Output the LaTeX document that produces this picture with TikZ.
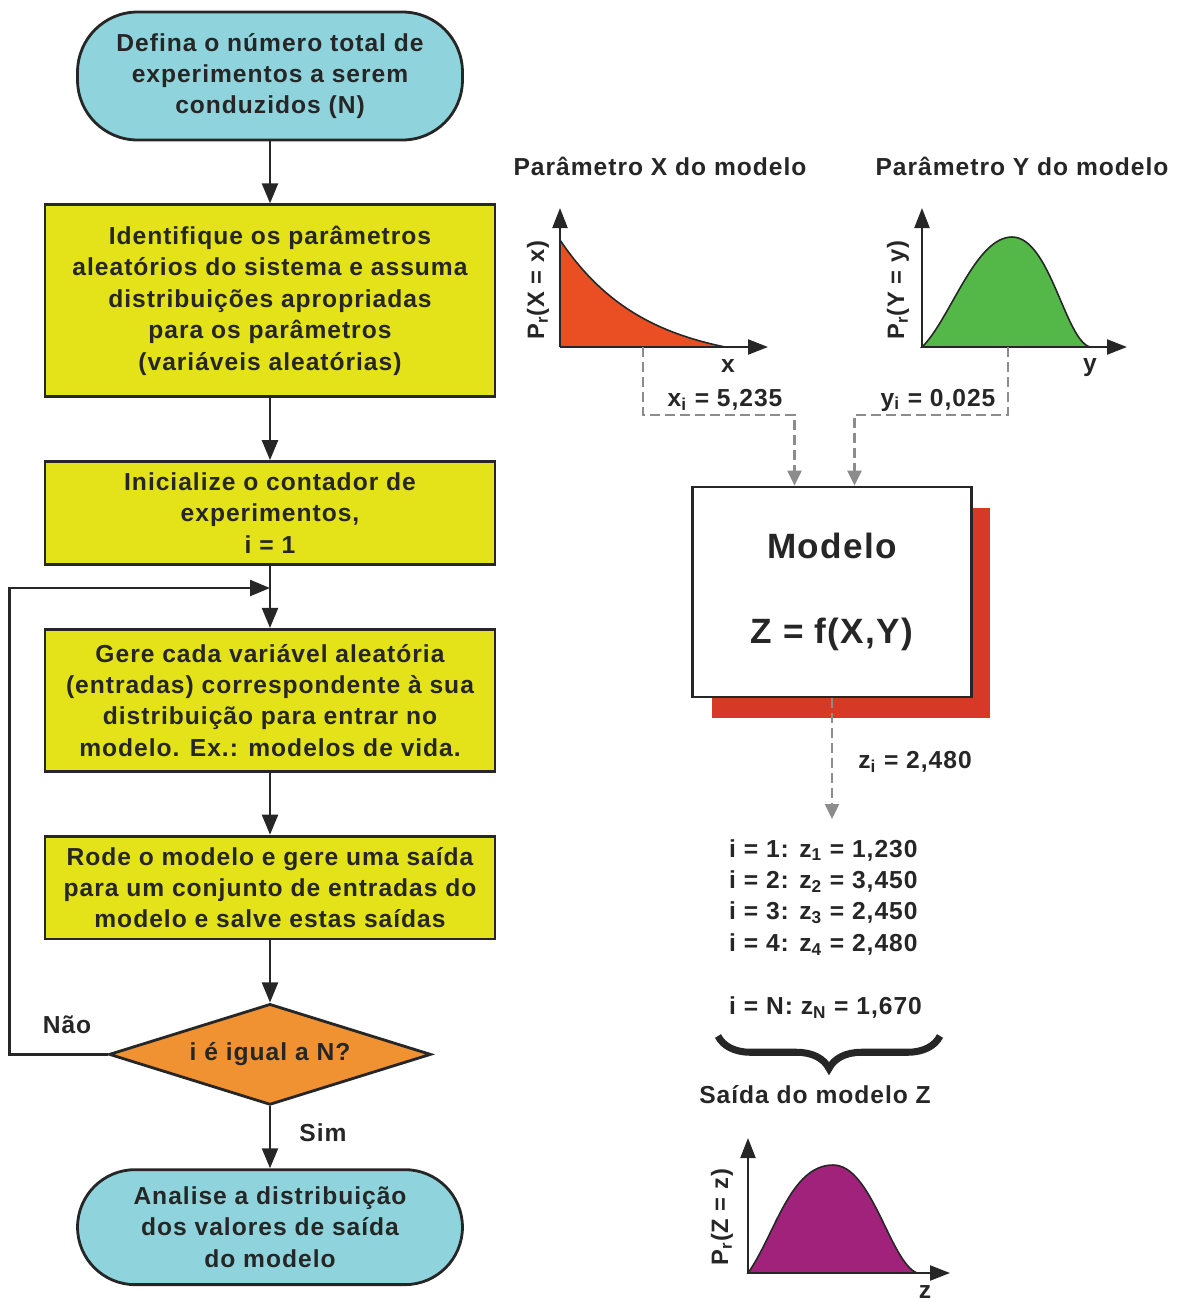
\documentclass[tikz,border=0pt]{standalone}
\usepackage{fontspec}
\setmainfont{Liberation Sans}[LetterSpace=4]
\usetikzlibrary{arrows.meta,positioning,shapes.geometric,shadows,decorations.pathreplacing}
\definecolor{termcyan}{RGB}{143,212,220}
\definecolor{boxyellow}{RGB}{228,226,24}
\definecolor{decorange}{RGB}{241,146,50}
\definecolor{curvered}{RGB}{233,79,35}
\definecolor{curvegreen}{RGB}{84,184,73}
\definecolor{curvepurple}{RGB}{160,34,122}
\definecolor{shadowred}{RGB}{214,57,38}
\definecolor{dashgray}{RGB}{140,140,140}

\begin{document}
\begin{tikzpicture}[x=0.02cm, y=-0.02cm,
  node distance=1.24cm,
  font=\bfseries\fontsize{14}{17.9}\selectfont, text=black!85,
  term/.style={rectangle, rounded corners=1.2cm, draw=black!85, line width=1.6pt, fill=termcyan, minimum width=7.7cm, align=center},
  box/.style={rectangle, draw=black!85, line width=1.6pt, fill=boxyellow, minimum width=9cm, align=center},
  decision/.style={diamond, aspect=3.2, draw=black!85, line width=1.6pt, fill=decorange, minimum width=6.44cm, minimum height=2.02cm, inner sep=0pt},
  model/.style={rectangle, draw=black!85, line width=1.6pt, fill=white, minimum width=5.58cm, minimum height=4.2cm, align=center, font=\bfseries\fontsize{20}{24}\selectfont, drop shadow={shadow xshift=0.38cm, shadow yshift=-0.42cm, fill=shadowred, opacity=1}},
  arr/.style={-{Triangle[length=4mm,width=3.2mm]}, line width=1.3pt, draw=black!85},
  dasharr/.style={-{Triangle[length=3mm,width=2.8mm]}, draw=dashgray, line width=1.3pt, dash pattern=on 0.2cm off 0.1cm},
  axis/.style={-{Triangle[length=4mm,width=3mm]}, line width=1.3pt, draw=black!85},
  curve/.style={draw=black!85, line width=0.9pt},
  ylab/.style={rotate=90, font=\bfseries\fontsize{13.5}{16}\selectfont},
  brace/.style={decorate, decoration={brace, amplitude=0.65cm, mirror}, line width=4pt, draw=black!85}]
\useasboundingbox (0,0) rectangle (1188,1302);

\node[term, minimum height=2.56cm] (n1) at (270,76) {Defina o número total de\\experimentos a serem\\conduzidos (N)};
\node[box, minimum height=3.84cm, below=of n1] (n2) {Identifique os parâmetros\\aleatórios do sistema e assuma\\distribuições apropriadas\\para os parâmetros\\(variáveis aleatórias)};
\node[box, minimum height=2.06cm, below=of n2] (n3) {Inicialize o contador de\\experimentos,\\i = 1};
\node[box, minimum height=2.84cm, below=of n3] (n4) {Gere cada variável aleatória\\(entradas) correspondente à sua\\distribuição para entrar no\\modelo. Ex.: modelos de vida.};
\node[box, minimum height=2.06cm, below=of n4] (n5) {Rode o modelo e gere uma saída\\para um conjunto de entradas do\\modelo e salve estas saídas};
\node[decision, below=of n5] (n6) {i é igual a N?};
\node[term, minimum height=2.3cm, rounded corners=1.15cm, below=of n6] (n7) {Analise a distribuição\\dos valores de saída\\do modelo};
\foreach \i/\j in {1/2,2/3,3/4,4/5,5/6,6/7} \draw[arr] (n\i) -- (n\j);
\coordinate (join) at (270,588);
\draw[arr] (n6.west) -- ++(-98,0) |- (join);
\node (nao) at (67,1025) {Não};
\node (sim) at (323,1133) {Sim};

\node (tx) at (660,166) {Parâmetro X do modelo};
\node (ty) at (1022,166) {Parâmetro Y do modelo};

\coordinate (ox) at (560,347);
\fill[curvered] (ox) -- plot[domain=0:165, samples=50] ({560+\x}, {347-107*(exp(-0.012*\x)-0.138)/0.862}) -- cycle;
\draw[curve] plot[domain=0:165, samples=50] ({560+\x}, {347-107*(exp(-0.012*\x)-0.138)/0.862});
\draw[axis] (ox) -- ++(0,-139);
\draw[axis] (ox) -- ++(208,0);
\node[ylab] (px) at (538,290) {P\textsubscript{r}(X = x)};
\node (lx) at (728,366) {x};

\coordinate (oy) at (922,347);
\filldraw[curve, fill=curvegreen] (oy) .. controls (950,320) and (975,237) .. (1012,237) .. controls (1050,237) and (1065,340) .. (1090,347) -- cycle;
\draw[axis] (oy) -- ++(0,-139);
\draw[axis] (oy) -- ++(205,0);
\node[ylab] (py) at (898,290) {P\textsubscript{r}(Y = y)};
\node (ly) at (1090,368) {y};

\node[model] (mod) at (832,592) {Modelo\\[0.85cm]Z = f(X,Y)};

\coordinate (xi) at (643,347);
\coordinate (yi) at (1008,347);
\draw[dasharr] (xi) -- ++(0,68) -| ([xshift=-0.75cm]mod.north);
\draw[dasharr] (yi) -- ++(0,68) -| ([xshift=0.45cm]mod.north);
\node (xv) at (725,400) {x\textsubscript{i} = 5,235};
\node (yv) at (938,400) {y\textsubscript{i} = 0,025};

\node[align=left, anchor=north west] (list) at (723,833) {i = 1: z\textsubscript{1} = 1,230\\i = 2: z\textsubscript{2} = 3,450\\i = 3: z\textsubscript{3} = 2,450\\i = 4: z\textsubscript{4} = 2,480\\[0.63cm]i = N: z\textsubscript{N} = 1,670};
\draw[dasharr, shorten >=0.28cm] (mod.south) -- (mod.south |- list.north);
\node (zv) at (915,762) {z\textsubscript{i} = 2,480};

\draw[brace] (718,1036) -- (940,1036);
\node (out) at (815,1095) {Saída do modelo Z};

\coordinate (oz) at (748,1273);
\filldraw[curve, fill=curvepurple] (oz) .. controls (775,1235) and (790,1165) .. (833,1165) .. controls (872,1165) and (890,1262) .. (917,1273) -- cycle;
\draw[axis] (oz) -- ++(0,-135);
\draw[axis] (oz) -- ++(202,0);
\node[ylab] (pz) at (722,1217) {P\textsubscript{r}(Z = z)};
\node (lz) at (925,1292) {z};
\end{tikzpicture}
\end{document}
